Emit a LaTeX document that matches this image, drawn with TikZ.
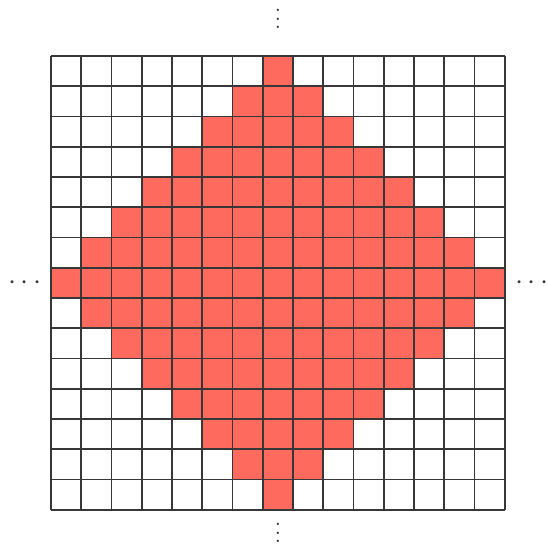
\documentclass[tikz,border=0pt]{standalone}
\usepackage{graphicx}
\definecolor{cellred}{RGB}{255,106,95}
\definecolor{gridgray}{RGB}{55,55,55}
\newcommand\myvdots{\vbox{\baselineskip4pt\lineskiplimit0pt\hbox{.}\hbox{.}\hbox{.}}}
\tikzset{
  cellfill/.style={fill=cellred,draw=none},
  gridline/.style={draw=gridgray,line width=1.6pt},
  dotsnode/.style={inner sep=0pt,text=gridgray},
}
\begin{document}
\begin{tikzpicture}[x=1pt,y=-1pt]
\useasboundingbox (0,0) rectangle (547,545);
\def\s{30.25}
\foreach \r in {0,...,14}{
  \foreach \c in {0,...,14}{
    \pgfmathtruncatemacro{\dd}{abs(\r-7)+abs(\c-7)}
    \ifnum\dd<8
      \fill[cellfill] (51+\c*\s,56+\r*\s) rectangle ++(\s,\s);
    \fi
  }
}
\foreach \i in {0,...,15}{
  \draw[gridline] (51+\i*\s,56) -- (51+\i*\s,56+15*\s);
  \draw[gridline] (51,56+\i*\s) -- (51+15*\s,56+\i*\s);
}
\node[dotsnode] (top) at (278,19) {\scalebox{2.2}{\myvdots}};
\node[dotsnode] (bottom) at (278,533) {\scalebox{2.2}{\myvdots}};
\node[dotsnode] (left) at (25,283) {\scalebox{2.9}{$\cdots$}};
\node[dotsnode] (right) at (532,283) {\scalebox{2.9}{$\cdots$}};
\end{tikzpicture}
\end{document}
